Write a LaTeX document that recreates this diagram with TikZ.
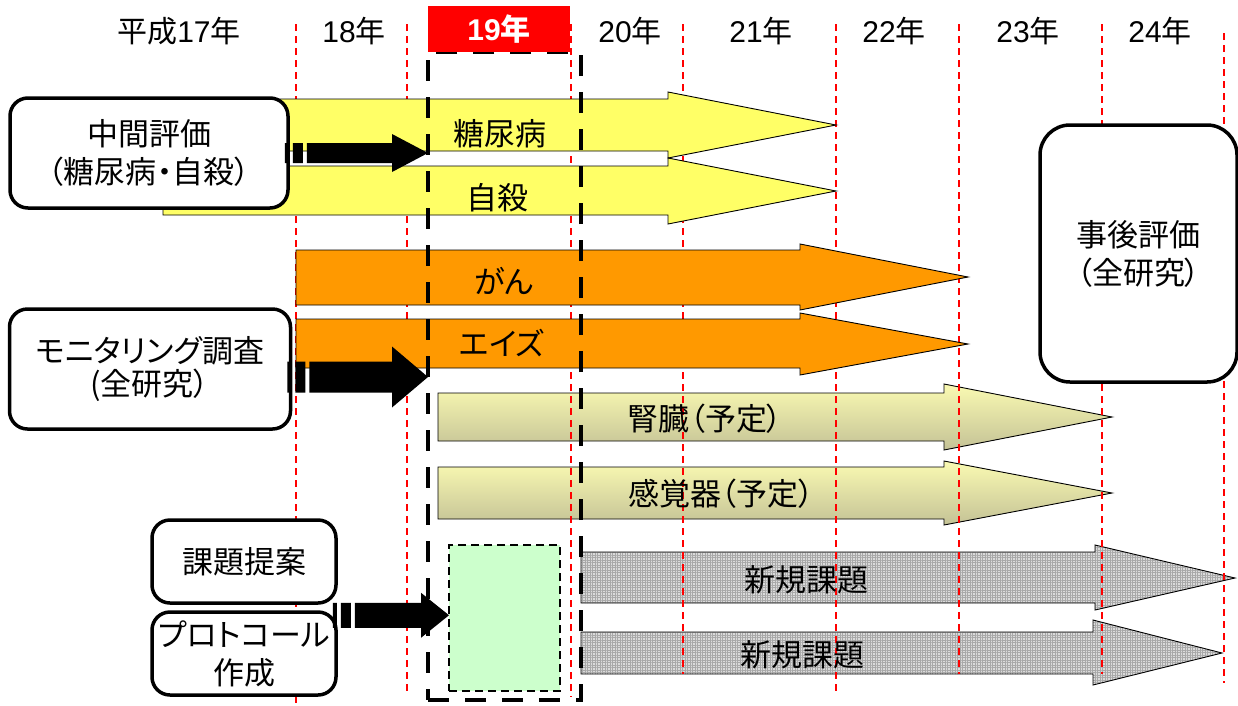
\documentclass[tikz,border=0pt]{standalone}
\usepackage{fontspec}
\setmainfont{Liberation Sans}
\newfontfamily\jp[RawFeature=+palt]{Noto Sans CJK JP}
\usetikzlibrary{calc,patterns.meta}
\newcommand\fs{\fontsize{31}{38}\selectfont}
\newcommand\fy{\fontsize{30}{36}\selectfont}
% #1 start, #2 tip, #3 body half, #4 head half, #5 head length
\newcommand\stripedarrow[5]{%
  \fill let \p1=(#1), \p2=(#2) in
    (\x1-5pt,\y1-#3) rectangle (\x1-1pt,\y1+#3)
    (\x1+3pt,\y1-#3) rectangle (\x1+13pt,\y1+#3)
    (\x1+17pt,\y1-#3) -- (\x2-#5,\y1-#3) -- (\x2-#5,\y1-#4) -- (\x2,\y1)
    -- (\x2-#5,\y1+#4) -- (\x2-#5,\y1+#3) -- (\x1+17pt,\y1+#3) -- cycle;}
\begin{document}
\begin{tikzpicture}[x=1pt,y=-1pt,
  redline/.style={draw=red, line width=1.3pt, dash pattern=on 7pt off 5pt},
  yel/.style={fill={rgb,255:red,255;green,255;blue,102}, draw=black, line width=0.9pt},
  ora/.style={fill={rgb,255:red,255;green,153;blue,0}, draw=black, line width=0.9pt},
  olive/.style={top color={rgb,255:red,250;green,250;blue,178}, bottom color={rgb,255:red,196;green,194;blue,150}, draw=black, line width=0.9pt},
  grey/.style={fill=gray!28, postaction={pattern={Hatch[distance=2.5pt,angle=0,line width=0.6pt]}, pattern color=gray!68}, postaction={draw=black, line width=0.9pt}},
  rbox/.style={draw=black, fill=white, line width=3.5pt, rounded corners=18pt, align=center, font=\fs\jp, inner sep=0pt},
  lbl/.style={font=\fs\jp, inner sep=0pt},
  yrlbl/.style={font=\fy, inner sep=0pt},
]
\useasboundingbox (0,0) rectangle (1238,705);

% olive and grey arrows (under the red lines)
\path[olive] (438,393) -- (944,393) -- (944,384) -- (1112,417) -- (944,450) -- (944,441) -- (438,441) -- cycle;
\path[olive] (438,467) -- (944,467) -- (944,461) -- (1112,493) -- (944,525) -- (944,519) -- (438,519) -- cycle;
\path[grey] (581,552) -- (1095,552) -- (1095,545) -- (1235,578) -- (1095,610) -- (1095,603) -- (581,603) -- cycle;
\path[grey] (581,632) -- (1093,632) -- (1093,620) -- (1222,653) -- (1093,685) -- (1093,674) -- (581,674) -- cycle;

% green dashed box
\node[draw=black, fill={rgb,255:red,204;green,255;blue,204}, line width=2pt, dash pattern=on 8pt off 5pt,
  minimum width=111pt, minimum height=146pt, inner sep=0pt, outer sep=0pt] (green) at (504.5,618) {};

% red dashed year lines
\foreach \x/\b in {296/705, 407/692, 571/697, 683/674, 836/695, 959/674, 1102/674}
  \draw[redline] (\x,24) -- (\x,\b);
\draw[redline] (1224,33) -- (1224,683);

% yellow arrows
\path[yel] (163,99) -- (668,99) -- (668,92) -- (836,125) -- (668,158) -- (668,151) -- (163,151) -- cycle;
\path[yel] (163,166) -- (668,166) -- (668,158) -- (836,191) -- (668,224) -- (668,215) -- (163,215) -- cycle;
% orange arrows
\path[ora] (296,250) -- (800,250) -- (800,244) -- (968,277) -- (800,310) -- (800,305) -- (296,305) -- cycle;
\path[ora] (296,319) -- (800,319) -- (800,313) -- (968,344) -- (800,375) -- (800,368) -- (296,368) -- cycle;

% labels on arrows
\node[lbl] (tDiab) at (500,134) {糖尿病};
\node[lbl] (tSui) at (497,198) {自殺};
\node[lbl] (tGan) at (504,281) {がん};
\node[lbl] (tAids) at (502,343) {エイズ};
\node[lbl] (tKid) at (705,419) {腎臓（予定）};
\node[lbl] (tSen) at (721,494) {感覚器（予定）};
\node[lbl] (tNew1) at (806,580) {新規課題};
\node[lbl] (tNew2) at (802,655) {新規課題};

% rounded boxes
\node[rbox, minimum width=278pt, minimum height=110pt] (mid) at (149,153) {中間評価\\（糖尿病・自殺）};
\node[rbox, minimum width=281pt, minimum height=120pt] (mon) at (150,369) {モニタリング調査\\[-5pt](全研究）};
\node[rbox, rounded corners=30pt, minimum width=197pt, minimum height=257pt] (post) at (1138.5,253.5) {事後評価\\（全研究）};
\node[rbox, minimum width=184pt, minimum height=83pt] (kadai) at (244,561.5) {課題提案};
\node[rbox, minimum width=184pt, minimum height=83pt] (proto) at (244,653.5) {プロトコール\\作成};

% big dashed frame (year 19)
\node[draw=black, line width=4.5pt, dash pattern=on 21pt off 16pt, minimum width=153pt, minimum height=648pt,
  inner sep=0pt, outer sep=0pt] (frame) at (504.5,376) {};

% striped black arrows
\stripedarrow{mid.east}{frame.west}{10pt}{19pt}{36pt}
\stripedarrow{$(mon.east)+(0,8)$}{frame.west}{15.5pt}{30.5pt}{36pt}
\stripedarrow{$(proto.north east)+(0,5)$}{green.west}{12.5pt}{22.5pt}{28pt}

% year header
\node[fill=red, minimum width=142pt, minimum height=46pt, inner sep=0pt, font=\fy\bfseries, text=white] (y19) at (499,29) {19{\jp\bfseries 年}};
\node[yrlbl] (y17) at (179,31) {{\jp 平成}17{\jp 年}};
\node[yrlbl] (y18) at (354,31) {18{\jp 年}};
\node[yrlbl] (y20) at (630,31) {20{\jp 年}};
\node[yrlbl] (y21) at (761,31) {21{\jp 年}};
\node[yrlbl] (y22) at (894,31) {22{\jp 年}};
\node[yrlbl] (y23) at (1028,31) {23{\jp 年}};
\node[yrlbl] (y24) at (1160,31) {24{\jp 年}};
\end{tikzpicture}
\end{document}
